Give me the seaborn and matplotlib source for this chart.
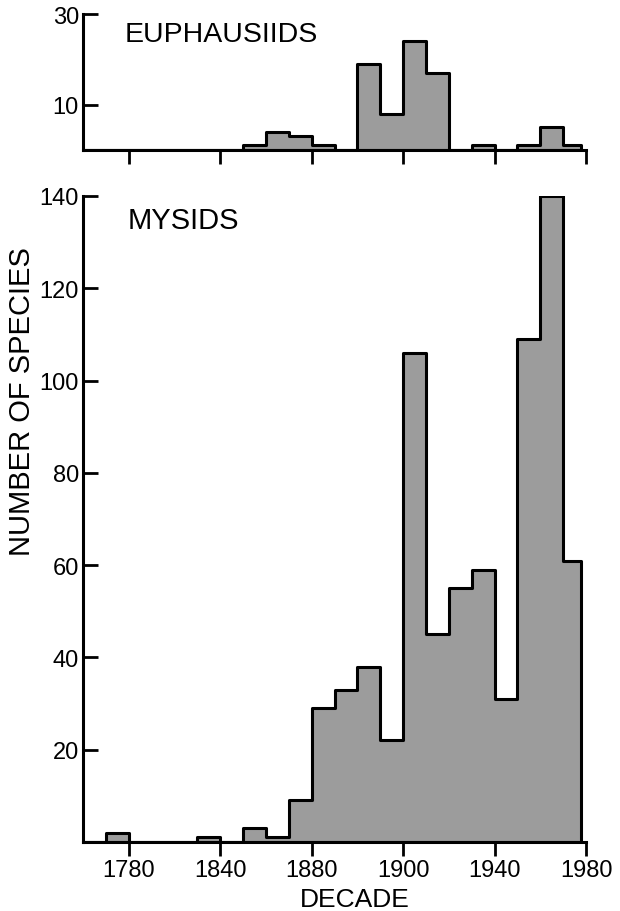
import matplotlib
matplotlib.use("Agg")
import numpy as np
import pandas as pd
import seaborn as sns
import matplotlib.pyplot as plt

# species described per decade (start year of decade)
euph_decades = [1830, 1840, 1850, 1860, 1880, 1890, 1900, 1910, 1930, 1950, 1960, 1970]
euph_counts = [1, 4, 3, 1, 19, 8, 24, 17, 1, 1, 5, 1]

mysid_decades = [1770, 1810, 1830, 1840, 1850, 1860, 1870, 1880, 1890,
                 1900, 1910, 1920, 1930, 1940, 1950, 1960, 1970]
mysid_counts = [2, 1, 3, 1, 9, 29, 33, 38, 22, 106, 45, 55, 59, 31, 109, 140, 61]

tick_labels = ["1780", "1840", "1880", "1900", "1940", "1980"]

sns.set_style("ticks")
plt.rcParams["font.family"] = ["Liberation Sans", "DejaVu Sans"]
plt.rcParams.update({"text.color": "black", "axes.labelcolor": "black",
                     "xtick.color": "black", "ytick.color": "black",
                     "axes.edgecolor": "black"})

W, H = 620, 912
fig = plt.figure(figsize=(W / 100, H / 100), dpi=100)
ax_top = fig.add_axes([83 / W, 1 - 151 / H, 503 / W, 136 / H])
ax_bot = fig.add_axes([83 / W, 1 - 843 / H, 503 / W, 646 / H])

edges = list(range(1760, 1971, 10)) + [1978]
ticks = list(range(1780, 1981, 40))

euph = pd.DataFrame({"decade": euph_decades, "n": euph_counts})
mysid = pd.DataFrame({"decade": mysid_decades, "n": mysid_counts})

for ax, df in [(ax_top, euph), (ax_bot, mysid)]:
    sns.histplot(data=df, x="decade", weights="n", bins=edges, element="step",
                 fill=True, color="#9c9c9c", edgecolor="black", linewidth=2.2,
                 alpha=1, ax=ax)
    ax.set_xlim(1760, 1980)
    ax.set_xticks(ticks)
    ax.set_xlabel("")
    ax.set_ylabel("")
    sns.despine(ax=ax)
    for s in ["left", "bottom"]:
        ax.spines[s].set_linewidth(2.2)
    ax.tick_params(axis="y", direction="in", length=11, width=2, labelsize=17, pad=3)
    ax.tick_params(axis="x", direction="out", length=10, width=2, labelsize=17, pad=2)

ax_top.set_ylim(0, 30)
ax_top.set_yticks([10, 30])
ax_top.set_xticklabels([])

ax_bot.set_ylim(0, 140)
ax_bot.set_yticks(range(20, 141, 20))
ax_bot.set_xticklabels(tick_labels)

fig.text(125 / W, 1 - 42 / H, "EUPHAUSIIDS", fontsize=20.5, va="baseline", ha="left")
fig.text(128 / W, 1 - 229 / H, "MYSIDS", fontsize=21, va="baseline", ha="left")
fig.text(22 / W, 1 - 402 / H, "NUMBER OF SPECIES", fontsize=21, rotation=90,
         va="center", ha="center")
fig.text(355 / W, 1 - 907 / H, "DECADE", fontsize=19, va="baseline", ha="center")

fig.savefig("out.png", dpi=100)
